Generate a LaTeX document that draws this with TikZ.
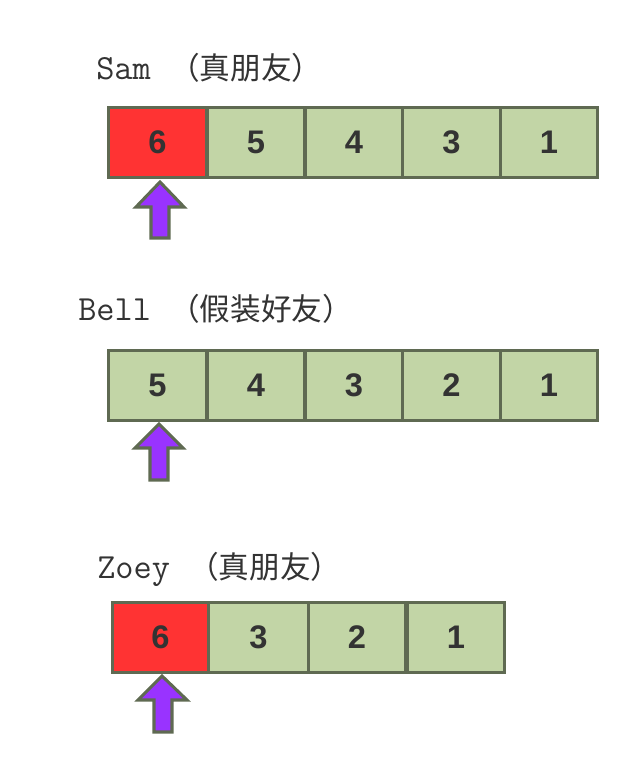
\documentclass[tikz,border=0pt]{standalone}
\usepackage{fontspec}
\setmainfont{Liberation Sans}
\newfontfamily\cjk{Noto Sans CJK SC}
\newfontfamily\lmmono{Latin Modern Mono}
\definecolor{cellred}{HTML}{FF3333}
\definecolor{cellgreen}{HTML}{C2D5A6}
\definecolor{edgeol}{HTML}{5F6A52}
\definecolor{arrowpurple}{HTML}{9933FF}
\definecolor{numgray}{HTML}{333333}
\definecolor{labgray}{HTML}{333333}
\begin{document}
\begin{tikzpicture}[x=0.75pt,y=-0.75pt,
  cellbox/.style={draw=edgeol,line width=2.3pt,fill=cellgreen,minimum height=53pt,
    inner sep=0pt,font=\bfseries\fontsize{24.5}{24.5}\selectfont,text=numgray},
  hotcell/.style={cellbox,fill=cellred},
  title/.style={anchor=base west,inner sep=0pt,text=labgray},
  ptr/.style={draw=edgeol,line width=2.3pt,fill=arrowpurple,line join=miter}]
\useasboundingbox (0,0) rectangle (630,763);
\newcommand{\lat}[1]{{\lmmono\fontsize{26.5}{26.5}\selectfont #1}}
\newcommand{\zh}[1]{{\cjk\fontsize{23}{23}\selectfont #1}}
% row 1
\node[title] (t1) at (96,80) {\lat{Sam }\zh{（真朋友）}};
\node[hotcell,minimum width=73pt] (a1) at (157.5,142.5) {6};
\node[cellbox,minimum width=73pt] (a2) at (256,142.5) {5};
\node[cellbox,minimum width=73pt] (a3) at (354,142.5) {4};
\node[cellbox,minimum width=73pt] (a4) at (451.5,142.5) {3};
\node[cellbox,minimum width=73pt] (a5) at (549,142.5) {1};
\draw[ptr] (160,182) -- (184,207) -- (169,207) -- (169,238) -- (151,238) -- (151,207) -- (136,207) -- cycle;
% row 2
\node[title] (t2) at (78,320) {\lat{Bell }\zh{（假装好友）}};
\node[cellbox,minimum width=73pt] (b1) at (157.5,385.5) {5};
\node[cellbox,minimum width=73pt] (b2) at (256,385.5) {4};
\node[cellbox,minimum width=73pt] (b3) at (354,385.5) {3};
\node[cellbox,minimum width=73pt] (b4) at (451.5,385.5) {2};
\node[cellbox,minimum width=73pt] (b5) at (549,385.5) {1};
\draw[ptr] (159,424) -- (183,448) -- (168,448) -- (168,480) -- (150,480) -- (150,448) -- (135,448) -- cycle;
% row 3
\node[title] (t3) at (97,578) {\lat{Zoey }\zh{（真朋友）}};
\node[hotcell,minimum width=72pt] (c1) at (160.5,637.5) {6};
\node[cellbox,minimum width=75pt] (c2) at (258.5,637.5) {3};
\node[cellbox,minimum width=73pt] (c3) at (357,637.5) {2};
\node[cellbox,minimum width=73pt] (c4) at (456,637.5) {1};
\draw[ptr] (162,676) -- (187,700) -- (172,700) -- (172,732) -- (154,732) -- (154,700) -- (138,700) -- cycle;
\end{tikzpicture}
\end{document}
